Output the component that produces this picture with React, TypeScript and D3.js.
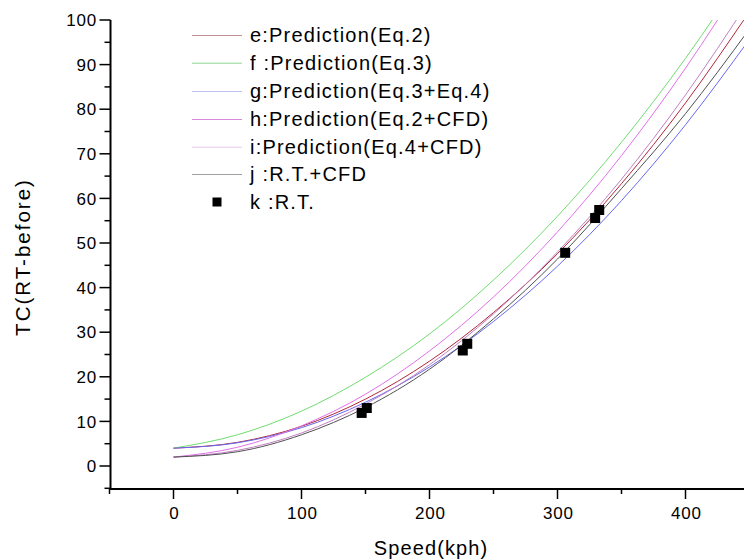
import React from "react";
import * as d3 from "d3";

const speed = [0, 50, 100, 150, 200, 250, 300, 350, 400, 450];
const eVals = [4.0, 5.3, 8.9, 15.0, 23.5, 34.4, 47.6, 63.3, 81.4, 101.9];
const fVals = [4.0, 7.0, 12.3, 19.9, 29.6, 41.7, 56.0, 72.6, 91.4, 112.5];
const gVals = [4.0, 5.2, 8.6, 14.3, 22.2, 32.4, 44.8, 59.5, 76.5, 95.7];
const hVals = [2.0, 4.2, 9.0, 16.1, 25.8, 37.9, 52.5, 69.6, 89.2, 111.2];
const iVals = [2.0, 3.5, 7.4, 13.9, 22.7, 34.1, 48.0, 64.3, 83.2, 104.5];
const jVals = [2.0, 3.2, 7.0, 13.1, 21.7, 33.0, 46.4, 62.2, 79.0, 98.0];

const rtSpeed = [147, 151, 226, 229.5, 306, 329.4, 332.6];
const rtTC = [11.9, 13.0, 25.9, 27.4, 47.8, 55.6, 57.4];

const legendLabels = [
  "e:Prediction(Eq.2)",
  "f :Prediction(Eq.3)",
  "g:Prediction(Eq.3+Eq.4)",
  "h:Prediction(Eq.2+CFD)",
  "i:Prediction(Eq.4+CFD)",
  "j :R.T.+CFD",
  "k :R.T.",
];

const xTicks = [0, 100, 200, 300, 400];
const xMinor = [-50, 50, 150, 250, 350, 450];
const yTicks = [0, 10, 20, 30, 40, 50, 60, 70, 80, 90, 100];
const yMinor = [-5, 5, 15, 25, 35, 45, 55, 65, 75, 85, 95];

const seriesList = [
  { vals: eVals, color: "#b02838", legend: "#c09090" },
  { vals: fVals, color: "#70dc70", legend: "#90d890" },
  { vals: gVals, color: "#6868f0", legend: "#c0c0ec" },
  { vals: hVals, color: "#e070e8", legend: "#d888d8" },
  { vals: iVals, color: "#c080c0", legend: "#e8c8e8" },
  { vals: jVals, color: "#505050", legend: "#a0a0a0" },
];

const FONT = "'Liberation Sans', Arial, sans-serif";

export default function App() {
  const W = 744, H = 560;
  const x = d3.scaleLinear().domain([-50, 450]).range([109.5, 749.5]);
  const y = d3.scaleLinear().domain([-5, 100]).range([488.3, 20]);
  const axisX = 110.5;
  const axisY = 489;

  const line = d3
    .line<[number, number]>()
    .x((d) => x(d[0]))
    .y((d) => y(d[1]))
    .curve(d3.curveMonotoneX);

  const legendY = [35, 62.7, 91, 119, 146.7, 174, 202];

  return (
    <svg width={W} height={H} style={{ position: "absolute", left: 0, top: 0, background: "#fff" }}>
      <defs>
        <clipPath id="plot">
          <rect x={axisX} y={y(100)} width={W} height={axisY - y(100)} />
        </clipPath>
      </defs>
      <rect x={0} y={0} width={W} height={H} fill="#fff" />
      <g clipPath="url(#plot)">
        {seriesList.map((s, i) => (
          <path
            key={i}
            d={line(speed.map((v, k) => [v, s.vals[k]] as [number, number])) || ""}
            fill="none"
            stroke={s.color}
            strokeWidth={1}
          />
        ))}
      </g>
      {rtSpeed.map((v, i) => (
        <rect key={i} x={x(v) - 5} y={y(rtTC[i]) - 5} width={10} height={10} fill="#000" />
      ))}
      {/* axes */}
      <line x1={axisX} x2={axisX} y1={y(100)} y2={axisY + 1} stroke="#000" strokeWidth={2} />
      <line x1={axisX - 1} x2={W} y1={axisY} y2={axisY} stroke="#000" strokeWidth={2} />
      {yTicks.map((t) => (
        <g key={"y" + t}>
          <line x1={axisX - 11} x2={axisX} y1={y(t)} y2={y(t)} stroke="#000" strokeWidth={1.5} />
          <text
            x={97}
            y={y(t)}
            dy="0.36em"
            textAnchor="end"
            fontFamily={FONT}
            fontSize={17}
            letterSpacing={0.8}
            fill="#000"
          >
            {t}
          </text>
        </g>
      ))}
      {yMinor.map((t) => (
        <line key={"ym" + t} x1={axisX - 6} x2={axisX} y1={y(t)} y2={y(t)} stroke="#000" strokeWidth={1.5} />
      ))}
      {xTicks.map((t) => (
        <g key={"x" + t}>
          <line x1={x(t)} x2={x(t)} y1={axisY} y2={axisY + 10} stroke="#000" strokeWidth={1.5} />
          <text
            x={x(t) + 1}
            y={519}
            textAnchor="middle"
            fontFamily={FONT}
            fontSize={17}
            letterSpacing={0.8}
            fill="#000"
          >
            {t}
          </text>
        </g>
      ))}
      {xMinor.map((t) => (
        <line key={"xm" + t} x1={x(t)} x2={x(t)} y1={axisY} y2={axisY + 5} stroke="#000" strokeWidth={1.5} />
      ))}
      <text
        x={431}
        y={555}
        textAnchor="middle"
        fontFamily={FONT}
        fontSize={20}
        letterSpacing={1.1}
        fill="#000"
      >
        Speed(kph)
      </text>
      <text
        transform={`translate(30, 257) rotate(-90)`}
        textAnchor="middle"
        fontFamily={FONT}
        fontSize={20.5}
        letterSpacing={2}
        fill="#000"
      >
        TC(RT-before)
      </text>
      {/* legend */}
      {legendLabels.map((lab, i) => (
        <g key={"l" + i}>
          {i < 6 ? (
            <line x1={192} x2={242} y1={legendY[i] + 0.5} y2={legendY[i] + 0.5} stroke={seriesList[i].legend} strokeWidth={1} />
          ) : (
            <rect x={212.5} y={legendY[i] - 4.5} width={9} height={9} fill="#000" />
          )}
          <text
            x={250}
            y={legendY[i]}
            dy="0.36em"
            fontFamily={FONT}
            fontSize={20}
            letterSpacing={1.2}
            fill="#000"
          >
            {lab}
          </text>
        </g>
      ))}
    </svg>
  );
}
